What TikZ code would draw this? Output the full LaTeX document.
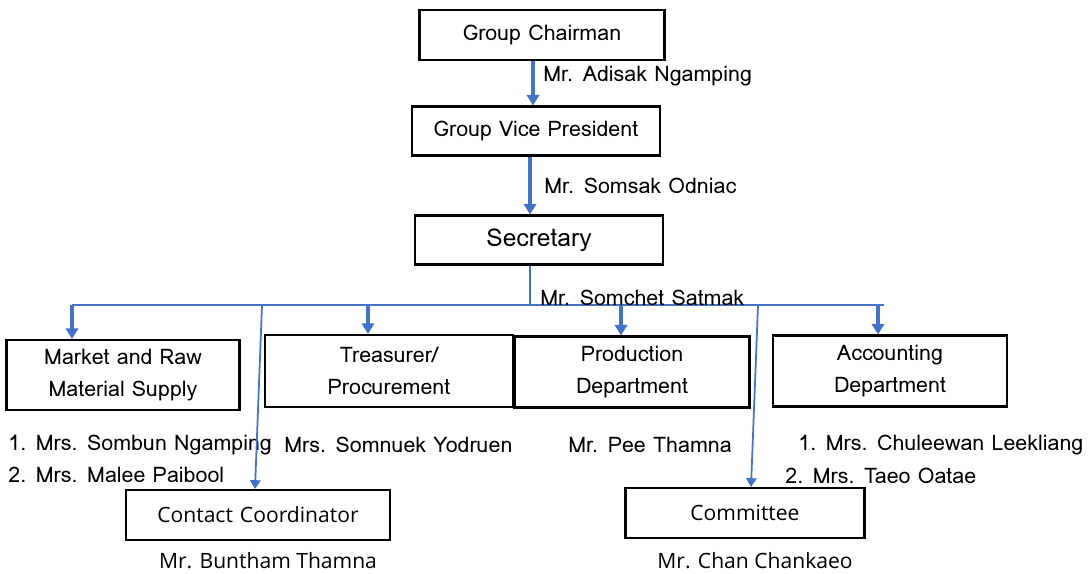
\documentclass[tikz,border=0pt]{standalone}
\usepackage{fontspec}
\setmainfont{Loma}
\newfontfamily\plainsans{Open Sans}
\usepackage{tikz}
\usetikzlibrary{arrows.meta, positioning, calc}
\definecolor{linkblue}{RGB}{68,114,196}
\tikzstyle{post} = [rectangle, draw=black, line width=1.2pt, inner sep=0pt, font=\fontsize{12.2}{18.5}\selectfont, align=center]
\tikzstyle{staff} = [font=\fontsize{12.2}{14}\selectfont, inner sep=0pt]
\tikzstyle{arrow} = [draw=linkblue, line width=1.8pt, -{Triangle[width=7pt,length=6pt]}]
\tikzstyle{thin} = [draw=linkblue, line width=1pt, -{Triangle[width=6pt,length=5pt]}]

\begin{document}
\begin{tikzpicture}[x=0.02cm, y=-0.02cm]
    \useasboundingbox (0,0) rectangle (1091,574);

    % Top of the chart
    \node (chair) [post, text width=4.9cm, minimum height=1cm] at (542,35) {Group Chairman};
    \node (vice) [post, text width=4.96cm, minimum height=0.98cm] at (536,131) {Group Vice President};
    \node (secr) [post, text width=4.96cm, minimum height=0.98cm, font=\fontsize{14}{16}\selectfont] at (539,240) {Secretary};

    \draw [arrow] (chair.south -| 533,0) -- (vice.north -| 533,0);
    \node [staff, anchor=west] at (543,76) {Mr. Adisak Ngamping};
    \draw [arrow] (vice.south -| 530,0) -- (secr.north -| 530,0);
    \node [staff, anchor=west] at (544,186) {Mr. Somsak Odniac};

    % Bus
    \coordinate (busL) at (72,305);
    \coordinate (busR) at (884,305);
    \draw [draw=linkblue, line width=1.2pt] (secr.south -| 530,0) -- (530,305);
    \draw [draw=linkblue, line width=1.2pt] (busL) -- (busR);
    \node [staff, anchor=west] at (540,298) {Mr. Somchet Satmak};

    % Departments
    \node (market) [post, text width=4.66cm, minimum height=1.4cm] at (123,375) {Market and Raw\\Material Supply};
    \node (treas) [post, text width=4.96cm, minimum height=1.44cm] at (389,371) {Treasurer/\\Procurement};
    \node (prod) [post, text width=4.7cm, minimum height=1.42cm] at (632,372) {Production\\Department};
    \node (acc) [post, text width=4.68cm, minimum height=1.42cm] at (890,371) {Accounting\\Department};

    \draw [arrow] (busL) -- (busL |- market.north);
    \draw [arrow] (368,305) -- (368,0 |- treas.north);
    \draw [arrow] (621,305) -- (621,0 |- prod.north);
    \draw [arrow] (878,305) -- (878,0 |- acc.north);

    % Staff names
    \node [staff, anchor=west] at (8,445) {1. Mrs. Sombun Ngamping};
    \node [staff, anchor=west] at (8,475) {2. Mrs. Malee Paibool};
    \node [staff, anchor=west] at (284,445) {Mrs. Somnuek Yodruen};
    \node [staff, anchor=west] at (568,445) {Mr. Pee Thamna};
    \node [staff, anchor=west] at (798,445) {1. Mrs. Chuleewan Leekliang};
    \node [staff, anchor=west] at (785,476) {2. Mrs. Taeo Oatae};

    % Lower posts
    \node (contact) [post, font=\plainsans\fontsize{12}{14}\selectfont, text width=5.28cm, minimum height=1cm] at (258,515) {Contact Coordinator};
    \node (comm) [post, font=\plainsans\fontsize{12}{14}\selectfont, text width=4.78cm, minimum height=1cm] at (745,513) {Committee};
    \draw [thin] (262,305) -- (255,0 |- contact.north);
    \draw [thin] (758,305) -- (751,0 |- comm.north);
    \node [staff, font=\plainsans\fontsize{12}{14}\selectfont] at (268,561) {Mr. Buntham Thamna};
    \node [staff, font=\plainsans\fontsize{12}{14}\selectfont] at (755,561) {Mr. Chan Chankaeo};
\end{tikzpicture}
\end{document}
